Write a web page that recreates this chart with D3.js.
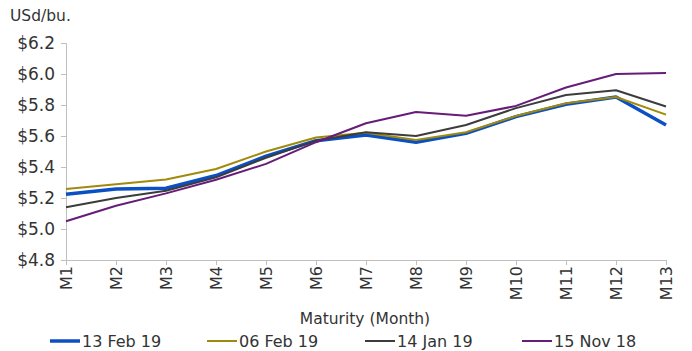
<!DOCTYPE html>
<html><head><meta charset="utf-8">
<script src="https://cdn.jsdelivr.net/npm/d3@7"></script>
<style>body{margin:0;background:#fff}svg{display:block}</style>
</head><body>
<script>
const categories = ["M1","M2","M3","M4","M5","M6","M7","M8","M9","M10","M11","M12","M13"];
const s13Feb19 = [5.224,5.258,5.263,5.345,5.47,5.57,5.606,5.56,5.617,5.725,5.805,5.852,5.671];
const s06Feb19 = [5.258,5.288,5.32,5.387,5.50,5.59,5.621,5.574,5.624,5.729,5.811,5.852,5.738];
const s14Jan19 = [5.14,5.20,5.247,5.333,5.46,5.57,5.624,5.60,5.671,5.78,5.865,5.895,5.79];
const s15Nov18 = [5.05,5.15,5.23,5.318,5.42,5.56,5.682,5.755,5.73,5.794,5.913,6.0,6.006];
const yTicks = [4.8,5.0,5.2,5.4,5.6,5.8,6.0,6.2];
const seriesNames = ["13 Feb 19","06 Feb 19","14 Jan 19","15 Nov 18"];
const seriesValues = [s13Feb19,s06Feb19,s14Jan19,s15Nov18];
const colors = ["#0b4fc4","#a08a0c","#3c3c3c","#661c78"];
const widths = [3.5,2,2,2];

const W=692,H=351;
const svg=d3.select("body").append("svg").attr("width",W).attr("height",H);
const font="'DejaVu Sans', sans-serif";
const x=d3.scalePoint().domain(categories).range([66,666]);
const y=d3.scaleLinear().domain([4.8,6.2]).range([260,43]);

const ya=svg.append("g").attr("transform","translate(66,0)")
  .call(d3.axisLeft(y).tickValues(yTicks).tickFormat(d=>"$"+d3.format(".1f")(d)).tickSize(5).tickPadding(6));
ya.selectAll("path,line").attr("stroke","#bfbfbf");
ya.selectAll("text").attr("font-family",font).attr("font-size",17).attr("fill","#333");

const xa=svg.append("g").attr("transform","translate(0,260)")
  .call(d3.axisBottom(x).tickSize(5).tickSizeOuter(0));
xa.selectAll("path,line").attr("stroke","#bfbfbf");
xa.selectAll("text").attr("font-family",font).attr("font-size",16).attr("fill","#333")
  .attr("transform","rotate(-90)").attr("text-anchor","end").attr("x",-6).attr("y",0).attr("dy","0.35em");

svg.append("text").attr("x",10).attr("y",21).attr("font-family",font).attr("font-size",15.5).attr("fill","#333").text("USd/bu.");
svg.append("text").attr("x",365).attr("y",324).attr("text-anchor","middle").attr("font-family",font).attr("font-size",15.5).attr("fill","#333").text("Maturity (Month)");

const line=d3.line().x((d,i)=>x(categories[i])).y(d=>y(d));
seriesValues.forEach((vals,k)=>{
  svg.append("path").datum(vals).attr("d",line).attr("fill","none")
    .attr("stroke",colors[k]).attr("stroke-width",widths[k]).attr("stroke-linejoin","round");
});

const legX=[50,207,365,522];
seriesNames.forEach((n,k)=>{
  svg.append("line").attr("x1",legX[k]).attr("x2",legX[k]+30).attr("y1",341).attr("y2",341)
    .attr("stroke",colors[k]).attr("stroke-width",k===0?3.5:2);
  svg.append("text").attr("x",legX[k]+32).attr("y",341).attr("dy","0.35em")
    .attr("font-family",font).attr("font-size",16).attr("fill","#333").text(n);
});
</script>
</body></html>
